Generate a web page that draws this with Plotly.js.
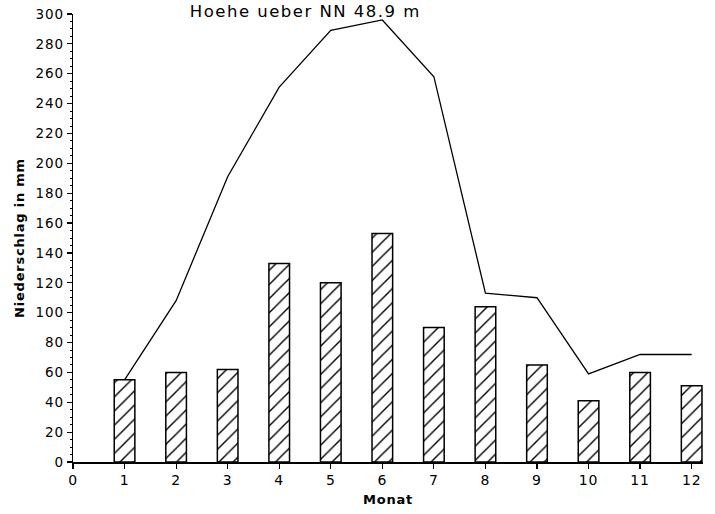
<!DOCTYPE html>
<html>
<head>
<meta charset="utf-8">
<script src="https://cdn.plot.ly/plotly-3.0.1.min.js"></script>
<style>
html,body{margin:0;padding:0;background:#fff;}
#chart{width:715px;height:514px;}
.main-svg text{letter-spacing:0.06em;}
.main-svg .gtitle{letter-spacing:0.09em;}
</style>
</head>
<body>
<div id="chart"></div>
<script>
// Data
const months = [1, 2, 3, 4, 5, 6, 7, 8, 9, 10, 11, 12];
const barValues = [55, 60, 62, 133, 120, 153, 90, 104, 65, 41, 60, 51];
const lineValues = [55, 108, 191, 251, 289, 296, 258, 113, 110, 59, 72, 72];
const xTickVals = [0, 1, 2, 3, 4, 5, 6, 7, 8, 9, 10, 11, 12];
const xTickText = ['0', '1', '2', '3', '4', '5', '6', '7', '8', '9', '10', '11', '12'];
const titleText = 'Hoehe ueber NN 48.9 m';
const xTitle = 'Monat';
const yTitle = 'Niederschlag in mm';

const font = 'DejaVu Sans, Liberation Sans, sans-serif';

const traces = [
  {
    type: 'bar',
    x: months,
    y: barValues,
    width: 0.4,
    marker: {
      color: '#ffffff',
      line: {color: '#000000', width: 1.5},
      pattern: {shape: '/', fgcolor: '#000000', bgcolor: '#ffffff', size: 10, solidity: 0.14}
    },
    hoverinfo: 'skip'
  },
  {
    type: 'scatter',
    mode: 'lines',
    x: months,
    y: lineValues,
    line: {color: '#000000', width: 1.3},
    hoverinfo: 'skip'
  }
];

const layout = {
  width: 715,
  height: 514,
  paper_bgcolor: '#ffffff',
  plot_bgcolor: '#ffffff',
  showlegend: false,
  margin: {l: 73, r: 12, t: 14, b: 52, pad: 0},
  font: {family: font, color: '#000000', size: 14},
  title: {
    text: titleText,
    font: {family: font, size: 16.5, color: '#000000'},
    xref: 'container', x: 0.427, xanchor: 'center',
    yref: 'container', y: 0.99, yanchor: 'top',
    pad: {t: 0, b: 0, l: 0, r: 0}
  },
  xaxis: {
    range: [0, 12.22],
    tickmode: 'array',
    tickvals: xTickVals,
    ticktext: xTickText,
    ticks: 'outside',
    ticklen: 5,
    tickwidth: 1.2,
    tickcolor: '#000000',
    showline: true,
    linecolor: '#000000',
    linewidth: 1.5,
    showgrid: false,
    zeroline: false,
    tickfont: {family: font, size: 14, color: '#000000'},
    title: {text: xTitle, font: {family: font, size: 13, color: '#000000', weight: 'bold'}, standoff: 7},
    fixedrange: true
  },
  yaxis: {
    range: [0, 300],
    tickmode: 'linear',
    tick0: 0,
    dtick: 20,
    ticks: 'outside',
    ticklen: 5,
    tickwidth: 1.2,
    tickcolor: '#000000',
    minor: {dtick: 5, ticks: 'outside', ticklen: 2, tickwidth: 1, tickcolor: '#000000'},
    showline: true,
    linecolor: '#000000',
    linewidth: 1.5,
    showgrid: false,
    zeroline: false,
    tickfont: {family: font, size: 13.5, color: '#000000'},
    title: {text: yTitle, font: {family: font, size: 13, color: '#000000', weight: 'bold'}, standoff: 10},
    fixedrange: true
  }
};

Plotly.newPlot('chart', traces, layout, {displayModeBar: false, staticPlot: true});
</script>
</body>
</html>
